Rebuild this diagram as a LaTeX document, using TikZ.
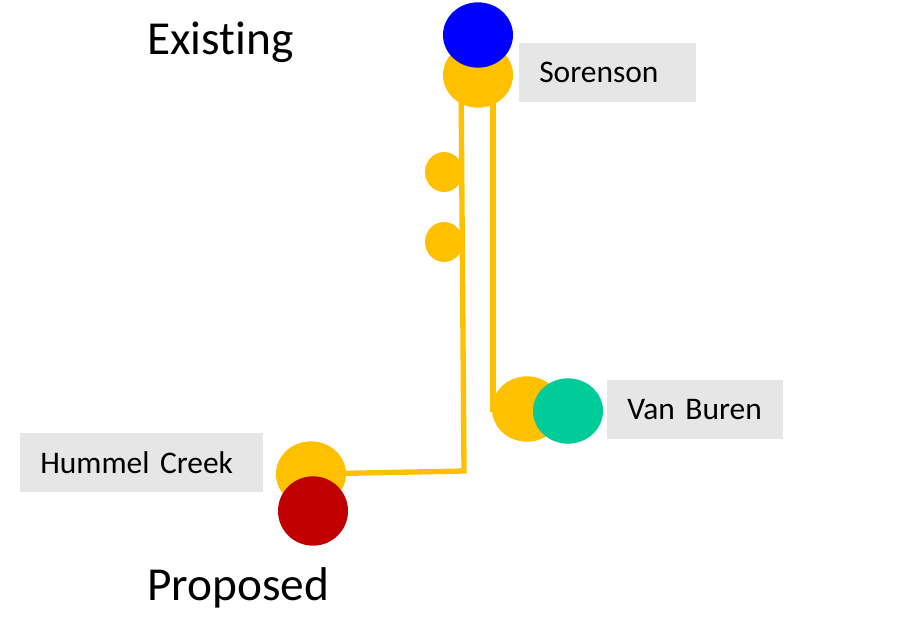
\documentclass[tikz,border=0pt]{standalone}
\usepackage{fontspec}
\setmainfont{Carlito}[Ligatures={NoCommon}]
\usetikzlibrary{shapes.geometric,backgrounds}

\definecolor{busyellow}{HTML}{FFC000}
\definecolor{existblue}{HTML}{0000FF}
\definecolor{vbgreen}{HTML}{00CC99}
\definecolor{propred}{HTML}{C00000}
\definecolor{boxgray}{HTML}{E6E6E6}

\tikzset{
  sub/.style={ellipse, inner sep=0pt, minimum width=52.5pt, minimum height=49pt},
  tap/.style={ellipse, fill=busyellow, inner sep=0pt, minimum width=28.5pt, minimum height=30pt},
  namebox/.style={fill=boxgray, anchor=west, inner xsep=15pt, minimum height=44.25pt,
    align=left, font=\fontsize{23.6}{28}\selectfont},
  feeder/.style={draw=busyellow, line width=4pt},
  title/.style={anchor=base west, inner sep=0pt, font=\fontsize{35.5}{42}\selectfont}
}

\begin{document}
\begin{tikzpicture}[x=0.75pt,y=-0.75pt]
        \useasboundingbox (0,0) rectangle (910,620);

        % Titles
        \node[title] (existing) at (147,55) {Existing};
        \node[title] (proposed) at (147,600) {Proposed};

        % Sorenson substation (existing blue over yellow)
        \node[sub, fill=busyellow] (sor) at (478,75) {};
        \node[sub, fill=existblue] (sorex) at (478,35) {};
        \node[namebox, text width=102.75pt] (sorbox) at (519,72.5) {Sorenson};

        % Taps along the line
        \node[tap] (tapa) at (444,172) {};
        \node[tap] (tapb) at (444,242) {};

        % Van Buren substation
        \node[sub, fill=busyellow] (vb) at (527,409) {};
        \node[sub, fill=vbgreen] (vbnew) at (568,411) {};
        \node[namebox, text width=102pt] (vbbox) at (607,409.5) {Van~Buren};

        % Hummel Creek substation (proposed red under yellow)
        \node[sub, fill=busyellow] (hum) at (311,474) {};
        \node[sub, fill=propred, minimum height=52pt] (humnew) at (313,511) {};
        \node[namebox, text width=152.25pt] (humbox) at (20,462.5) {Hummel~Creek};

        % Corner of the line to Hummel Creek
        \coordinate (bend) at (464,471);

        % Lines behind the substations
        \begin{scope}[on background layer]
            \draw[feeder] ([xshift=-12.75pt]sor.center) -- (bend) -- (hum.center);
            \draw[feeder] ([xshift=11.25pt]sor.center) |- (vb.center);
        \end{scope}

    \end{tikzpicture}
\end{document}
